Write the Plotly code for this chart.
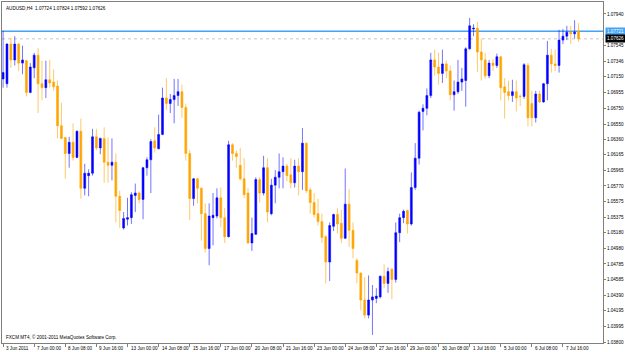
import plotly.graph_objects as go

symbol_header = "AUDUSD,H4  1.07724 1.07824 1.07592 1.07626"
copyright_text = "FXCM MT4, © 2001-2011 MetaQuotes Software Corp."

open_ = [
    1.0712, 1.0706, 1.0756, 1.0736, 1.0756, 1.0732, 1.0735, 1.0695, 1.0726, 1.0742,
    1.0706, 1.0701, 1.0711, 1.0708, 1.0703, 1.0653, 1.0638, 1.0618, 1.0632, 1.0613,
    1.0646, 1.0574, 1.0590, 1.0593, 1.0639, 1.0625, 1.0637, 1.0607, 1.0603, 1.0607,
    1.0564, 1.0524, 1.0535, 1.0537, 1.0565, 1.0568, 1.0560, 1.0600, 1.0610, 1.0634,
    1.0624, 1.0642, 1.0688, 1.0681, 1.0686, 1.0691, 1.0696, 1.0676, 1.0618, 1.0561,
    1.0586, 1.0574, 1.0542, 1.0498, 1.0537, 1.0539, 1.0562, 1.0537, 1.0513, 1.0629,
    1.0618, 1.0603, 1.0586, 1.0568, 1.0505, 1.0516, 1.0585, 1.0568, 1.0600, 1.0542,
    1.0578, 1.0588, 1.0595, 1.0602, 1.0591, 1.0581, 1.0602, 1.0595, 1.0631, 1.0572,
    1.0556, 1.0542, 1.0532, 1.0513, 1.0481, 1.0526, 1.0541, 1.0530, 1.0511, 1.0554,
    1.0521, 1.0483, 1.0467, 1.0433, 1.0414, 1.0433, 1.0435, 1.0437, 1.0463, 1.0454,
    1.0472, 1.0459, 1.0518, 1.0537, 1.0546, 1.0529, 1.0575, 1.0612, 1.0671, 1.0675,
    1.0691, 1.0736, 1.0727, 1.0719, 1.0731, 1.0722, 1.0692, 1.0696, 1.0708, 1.0710,
    1.0750, 1.0775, 1.0776, 1.0746, 1.0736, 1.0716, 1.0732, 1.0729, 1.0740, 1.0702,
    1.0696, 1.0691, 1.0696, 1.0690, 1.0690, 1.0729, 1.0681, 1.0663, 1.0693, 1.0683,
    1.0706, 1.0742, 1.0731, 1.0729, 1.0761, 1.0766, 1.0771, 1.0769, 1.07724,
]
high = [
    1.0773, 1.0757, 1.0764, 1.0766, 1.0757, 1.0754, 1.0736, 1.0732, 1.0745, 1.0751,
    1.0735, 1.0735, 1.0736, 1.0724, 1.0710, 1.0682, 1.0639, 1.0639, 1.0656, 1.0647,
    1.0662, 1.0605, 1.0598, 1.0649, 1.0649, 1.0638, 1.0651, 1.0638, 1.0637, 1.0618,
    1.0571, 1.0544, 1.0562, 1.0569, 1.0580, 1.0570, 1.0601, 1.0613, 1.0636, 1.0651,
    1.0667, 1.0701, 1.0713, 1.0693, 1.0712, 1.0712, 1.0705, 1.0681, 1.0622, 1.0587,
    1.0587, 1.0575, 1.0555, 1.0555, 1.0568, 1.0574, 1.0575, 1.0549, 1.0634, 1.0631,
    1.0622, 1.0625, 1.0612, 1.0574, 1.0537, 1.0588, 1.0588, 1.0615, 1.0612, 1.0586,
    1.0597, 1.0618, 1.0613, 1.0605, 1.0612, 1.0610, 1.0612, 1.0650, 1.0632, 1.0575,
    1.0568, 1.0561, 1.0542, 1.0515, 1.0531, 1.0542, 1.0549, 1.0547, 1.0599, 1.0573,
    1.0531, 1.0486, 1.0468, 1.0462, 1.0464, 1.0452, 1.0448, 1.0464, 1.0478, 1.0474,
    1.0473, 1.0531, 1.0542, 1.0547, 1.0547, 1.0594, 1.0631, 1.0672, 1.0680, 1.0700,
    1.0745, 1.0749, 1.0745, 1.0749, 1.0735, 1.0729, 1.0710, 1.0736, 1.0726, 1.0752,
    1.0789, 1.0781, 1.0784, 1.0763, 1.0745, 1.0736, 1.0737, 1.0744, 1.0741, 1.0713,
    1.0710, 1.0711, 1.0710, 1.0693, 1.0732, 1.0732, 1.0697, 1.0697, 1.0697, 1.0707,
    1.0760, 1.0750, 1.0749, 1.0774, 1.0775, 1.0779, 1.0779, 1.0786, 1.07824,
]
low = [
    1.0701, 1.0701, 1.0726, 1.0729, 1.0722, 1.0718, 1.0690, 1.0694, 1.0713, 1.0669,
    1.0685, 1.0688, 1.0701, 1.0697, 1.0637, 1.0636, 1.0586, 1.0600, 1.0609, 1.0612,
    1.0561, 1.0565, 1.0564, 1.0590, 1.0622, 1.0617, 1.0581, 1.0581, 1.0584, 1.0531,
    1.0524, 1.0522, 1.0527, 1.0529, 1.0544, 1.0555, 1.0535, 1.0590, 1.0568, 1.0619,
    1.0623, 1.0641, 1.0673, 1.0669, 1.0656, 1.0678, 1.0663, 1.0609, 1.0534, 1.0552,
    1.0555, 1.0508, 1.0493, 1.0477, 1.0502, 1.0536, 1.0525, 1.0505, 1.0512, 1.0609,
    1.0600, 1.0584, 1.0562, 1.0504, 1.0495, 1.0515, 1.0556, 1.0565, 1.0531, 1.0540,
    1.0555, 1.0574, 1.0574, 1.0583, 1.0574, 1.0575, 1.0565, 1.0572, 1.0568, 1.0542,
    1.0537, 1.0527, 1.0505, 1.0454, 1.0457, 1.0520, 1.0517, 1.0505, 1.0510, 1.0500,
    1.0486, 1.0454, 1.0420, 1.0410, 1.0410, 1.0389, 1.0429, 1.0435, 1.0448, 1.0442,
    1.0434, 1.0455, 1.0506, 1.0530, 1.0517, 1.0527, 1.0572, 1.0604, 1.0647, 1.0666,
    1.0688, 1.0716, 1.0705, 1.0707, 1.0713, 1.0685, 1.0672, 1.0693, 1.0697, 1.0677,
    1.0749, 1.0766, 1.0721, 1.0710, 1.0712, 1.0713, 1.0722, 1.0726, 1.0685, 1.0662,
    1.0685, 1.0683, 1.0671, 1.0678, 1.0687, 1.0652, 1.0652, 1.0657, 1.0682, 1.0682,
    1.0685, 1.0720, 1.0722, 1.0720, 1.0756, 1.0761, 1.0756, 1.0763, 1.07592,
]
close = [
    1.0720, 1.0756, 1.0736, 1.0756, 1.0732, 1.0736, 1.0695, 1.0727, 1.0742, 1.0706,
    1.0701, 1.0711, 1.0707, 1.0702, 1.0653, 1.0637, 1.0618, 1.0632, 1.0613, 1.0646,
    1.0574, 1.0593, 1.0593, 1.0639, 1.0625, 1.0637, 1.0607, 1.0603, 1.0607, 1.0564,
    1.0546, 1.0536, 1.0537, 1.0566, 1.0568, 1.0560, 1.0600, 1.0610, 1.0633, 1.0625,
    1.0642, 1.0688, 1.0681, 1.0686, 1.0691, 1.0696, 1.0676, 1.0618, 1.0561, 1.0586,
    1.0574, 1.0542, 1.0498, 1.0539, 1.0540, 1.0562, 1.0537, 1.0513, 1.0629, 1.0618,
    1.0614, 1.0586, 1.0566, 1.0505, 1.0517, 1.0585, 1.0568, 1.0600, 1.0544, 1.0578,
    1.0588, 1.0595, 1.0602, 1.0590, 1.0581, 1.0602, 1.0595, 1.0631, 1.0571, 1.0556,
    1.0541, 1.0532, 1.0512, 1.0481, 1.0527, 1.0541, 1.0529, 1.0511, 1.0554, 1.0521,
    1.0498, 1.0467, 1.0433, 1.0414, 1.0433, 1.0437, 1.0438, 1.0463, 1.0454, 1.0469,
    1.0459, 1.0518, 1.0537, 1.0545, 1.0529, 1.0575, 1.0612, 1.0670, 1.0675, 1.0691,
    1.0736, 1.0727, 1.0719, 1.0731, 1.0722, 1.0692, 1.0696, 1.0708, 1.0712, 1.0750,
    1.0779, 1.0776, 1.0746, 1.0736, 1.0716, 1.0732, 1.0729, 1.0740, 1.0701, 1.0695,
    1.0691, 1.0696, 1.0688, 1.06898, 1.0730, 1.0663, 1.0663, 1.0693, 1.0683, 1.0706,
    1.0742, 1.0731, 1.0729, 1.0761, 1.0766, 1.0771, 1.0769, 1.0771, 1.07626,
]

date_labels = [
    "3 Jun 2011", "7 Jun 00:00", "8 Jun 08:00", "9 Jun 16:00", "13 Jun 00:00",
    "14 Jun 08:00", "15 Jun 16:00", "17 Jun 00:00", "20 Jun 08:00", "21 Jun 16:00",
    "23 Jun 00:00", "24 Jun 08:00", "27 Jun 16:00", "29 Jun 00:00", "30 Jun 08:00",
    "1 Jul 16:00", "5 Jul 00:00", "6 Jul 08:00", "7 Jul 16:00",
]
bars_per_label = 8

price_ticks = [
    1.07940, 1.07545, 1.07346, 1.07150, 1.06955, 1.06750, 1.06550, 1.06360,
    1.06165, 1.05965, 1.05770, 1.05575, 1.05375, 1.05180, 1.04980, 1.04785,
    1.04585, 1.04390, 1.04195, 1.03995, 1.03800,
]
hline_price = 1.07721
bid_price = close[-1]

bars = list(range(len(close)))
label_pos = [k * bars_per_label for k in range(len(date_labels))]

FONT = "Liberation Sans, Arial, sans-serif"

fig = go.Figure()
fig.add_trace(go.Candlestick(
    x=bars, open=open_, high=high, low=low, close=close,
    increasing=dict(line=dict(color="rgba(0,0,255,0.55)", width=1), fillcolor="#0000ff"),
    decreasing=dict(line=dict(color="rgba(255,165,0,0.6)", width=1), fillcolor="#ffa500"),
    whiskerwidth=0, hoverinfo="skip", showlegend=False,
))

fig.add_shape(type="line", xref="paper", x0=0, x1=1, yref="y", y0=hline_price, y1=hline_price,
              line=dict(color="#45a3f5", width=1.5), layer="below")
fig.add_shape(type="line", xref="paper", x0=0, x1=1, yref="y", y0=bid_price, y1=bid_price,
              line=dict(color="#c8c8c8", width=1, dash="dot"), layer="below")

annotations = []
for pos, txt in zip(label_pos, date_labels):
    annotations.append(dict(x=pos, xref="x", y=0, yref="paper", text=txt, showarrow=False,
                            xanchor="left", yanchor="top", xshift=1, yshift=-1,
                            font=dict(size=4.6, color="#000000", family=FONT)))
annotations.append(dict(x=0, xref="paper", y=1, yref="paper", text=symbol_header, showarrow=False,
                        xanchor="left", yanchor="top", xshift=2, yshift=-2,
                        font=dict(size=4.6, color="#000000", family=FONT)))
annotations.append(dict(x=0, xref="paper", y=0, yref="paper", text=copyright_text, showarrow=False,
                        xanchor="left", yanchor="bottom", xshift=2, yshift=1,
                        font=dict(size=4.6, color="#000000", family=FONT)))
annotations.append(dict(x=1, xref="paper", y=hline_price, yref="y", text=f"{hline_price:.5f}",
                        showarrow=False, xanchor="left", yanchor="middle", xshift=2,
                        bgcolor="#45a3f5", borderpad=1,
                        font=dict(size=4.6, color="#ffffff", family=FONT)))
annotations.append(dict(x=1, xref="paper", y=bid_price, yref="y", text=f"{bid_price:.5f}",
                        showarrow=False, xanchor="left", yanchor="middle", xshift=2,
                        bgcolor="#000000", borderpad=1,
                        font=dict(size=4.6, color="#ffffff", family=FONT)))

fig.update_layout(
    width=625, height=352,
    margin=dict(l=1, r=21, t=1, b=9),
    paper_bgcolor="#ffffff", plot_bgcolor="#ffffff",
    showlegend=False, hovermode=False,
    annotations=annotations,
    xaxis=dict(range=[-0.28, 154.3], rangeslider=dict(visible=False),
               showgrid=False, zeroline=False, showline=True, mirror=True,
               linecolor="#7f7f7f", linewidth=1,
               tickmode="array", tickvals=label_pos, ticktext=["" for _ in label_pos],
               ticks="outside", ticklen=3, tickcolor="#7f7f7f", showticklabels=False),
    yaxis=dict(side="right", range=[1.03788, 1.08091],
               showgrid=False, zeroline=False, showline=True, mirror=True,
               linecolor="#7f7f7f", linewidth=1,
               tickmode="array", tickvals=price_ticks,
               ticktext=[f"{v:.5f}" for v in price_ticks],
               ticks="outside", ticklen=2, tickcolor="#7f7f7f",
               tickfont=dict(size=4.6, color="#000000", family=FONT)),
)

fig.write_html("out.html")
